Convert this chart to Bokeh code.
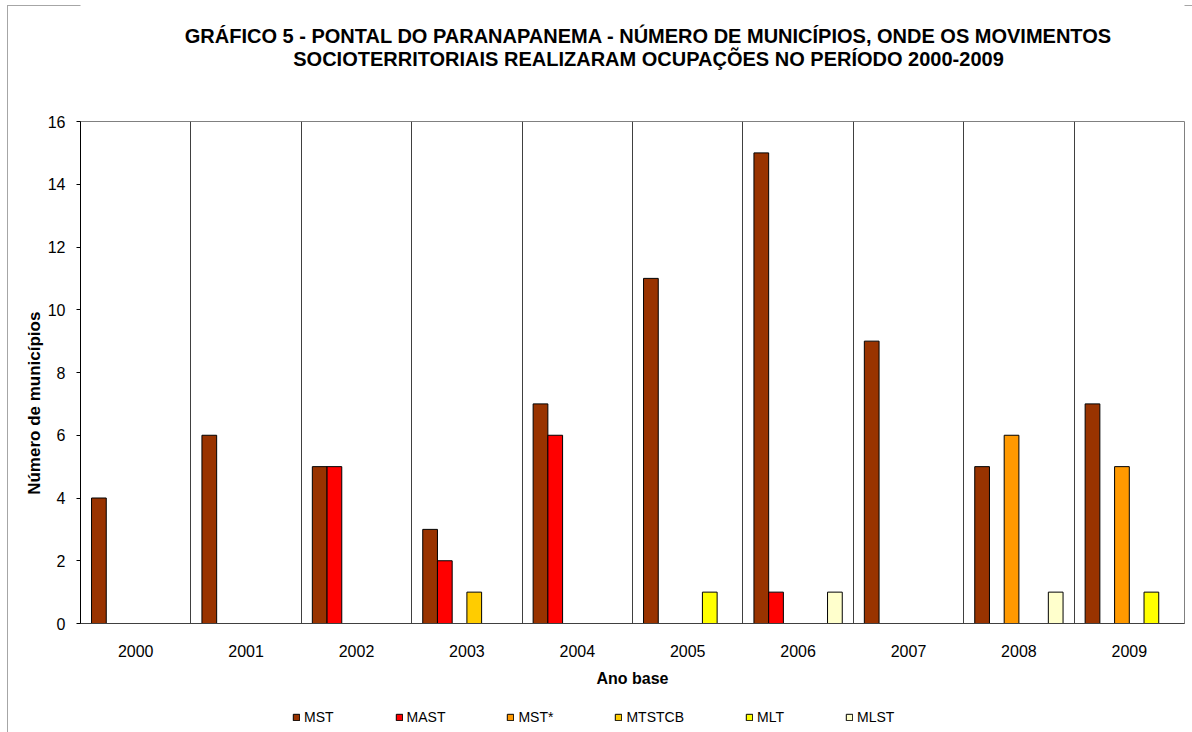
from bokeh.plotting import figure
from bokeh.layouts import column
from bokeh.models import (Range1d, FixedTicker, Legend, LegendItem, Label,
                          ColumnDataSource)
from bokeh.embed import file_html
from bokeh.resources import INLINE

years = ["2000", "2001", "2002", "2003", "2004", "2005", "2006", "2007", "2008", "2009"]
series_names = ["MST", "MAST", "MST*", "MTSTCB", "MLT", "MLST"]
mst = [4, 6, 5, 3, 7, 11, 15, 9, 5, 7]
mast = [0, 0, 5, 2, 6, 0, 1, 0, 0, 0]
mst_star = [0, 0, 0, 0, 0, 0, 0, 0, 6, 5]
mtstcb = [0, 0, 0, 1, 0, 0, 0, 0, 0, 0]
mlt = [0, 0, 0, 0, 0, 1, 0, 0, 0, 1]
mlst = [0, 0, 0, 0, 0, 0, 1, 0, 1, 0]
colors = ["#993300", "#FF0000", "#FF9900", "#FFCC00", "#FFFF00", "#FFFFCC"]
all_series = [mst, mast, mst_star, mtstcb, mlt, mlst]
title_line1 = "GRÁFICO 5 - PONTAL DO PARANAPANEMA - NÚMERO DE MUNICÍPIOS, ONDE OS MOVIMENTOS"
title_line2 = "SOCIOTERRITORIAIS REALIZARAM OCUPAÇÕES NO PERÍODO 2000-2009"

FONT = "Liberation Sans"
W = 1192
TOP_H, MAIN_H, LEG_H = 80, 620, 32
FRAME_L, FRAME_R = 80, 1184

# ---------- title strip (frame aligned with main chart frame) ----------
pt = figure(width=W, height=TOP_H, output_backend="svg", toolbar_location=None,
            x_range=Range1d(FRAME_L, FRAME_R), y_range=Range1d(TOP_H, 0),
            x_axis_location=None, y_axis_location=None,
            min_border=0, min_border_left=0, min_border_right=0,
            min_border_top=0, min_border_bottom=0)
pt.outline_line_color = None
pt.border_fill_color = None
pt.grid.visible = False
for txt, yy in ((title_line1, 35), (title_line2, 58)):
    pt.add_layout(Label(x=648, y=yy, text=txt, text_align="center",
                        text_baseline="middle", text_font=FONT,
                        text_font_size="20px", text_font_style="bold",
                        text_color="#000000"))

# ---------- main chart ----------
p = figure(width=W, height=MAIN_H, output_backend="svg", toolbar_location=None,
           x_range=Range1d(0, 10), y_range=Range1d(0, 16),
           min_border_left=80, min_border_right=8, min_border_top=41,
           min_border_bottom=77)
p.title_location = None
p.border_fill_color = None
p.outline_line_color = "#808080"
p.ygrid.grid_line_color = None
p.xgrid.ticker = FixedTicker(ticks=list(range(1, 11)))
p.xgrid.grid_line_color = "#404040"
p.xgrid.grid_line_width = 1

bar_w = 2.0 / 15.0
for i, (name, vals, col) in enumerate(zip(series_names, all_series, colors)):
    off = (i - 2.5) * bar_w
    xs = [k + 0.5 + off for k, v in enumerate(vals) if v > 0]
    tops = [v for v in vals if v > 0]
    src = ColumnDataSource(dict(x=xs, top=tops))
    p.vbar(x="x", top="top", width=bar_w, bottom=0, source=src,
           fill_color=col, line_color="#000000", line_width=1)

p.yaxis.ticker = FixedTicker(ticks=list(range(0, 17, 2)))
p.yaxis.axis_line_color = "#000000"
p.yaxis.major_tick_line_color = "#000000"
p.yaxis.major_tick_out = 4
p.yaxis.major_tick_in = 0
p.yaxis.minor_tick_line_color = None
p.yaxis.major_label_text_font = FONT
p.yaxis.major_label_text_font_size = "16px"
p.yaxis.major_label_text_color = "#000000"
p.yaxis.major_label_standoff = 11
p.yaxis.axis_label = "Número de municípios" + "\u00a0" * 13
p.yaxis.axis_label_text_font = FONT
p.yaxis.axis_label_text_font_size = "17px"
p.yaxis.axis_label_text_font_style = "bold"
p.yaxis.axis_label_text_color = "#000000"
p.yaxis.axis_label_standoff = 1

p.xaxis.ticker = FixedTicker(ticks=[k + 0.5 for k in range(10)])
p.xaxis.major_label_overrides = {k + 0.5: y for k, y in enumerate(years)}
p.xaxis.axis_line_color = "#404040"
p.xaxis.major_tick_line_color = None
p.xaxis.minor_tick_line_color = None
p.xaxis.major_tick_out = 0
p.xaxis.major_tick_in = 0
p.xaxis.major_label_text_font = FONT
p.xaxis.major_label_text_font_size = "16px"
p.xaxis.major_label_text_color = "#000000"
p.xaxis.major_label_standoff = 21
p.xaxis.axis_label = "Ano base"
p.xaxis.axis_label_text_font = FONT
p.xaxis.axis_label_text_font_size = "16px"
p.xaxis.axis_label_text_font_style = "bold"
p.xaxis.axis_label_text_color = "#000000"
p.xaxis.axis_label_standoff = 10

# ---------- legend strip ----------
pl = figure(width=W, height=LEG_H, output_backend="svg", toolbar_location=None,
            x_range=Range1d(0, 1), y_range=Range1d(0, 1),
            x_axis_location=None, y_axis_location=None,
            min_border=0, min_border_left=0, min_border_right=0,
            min_border_top=0, min_border_bottom=0)
pl.outline_line_color = None
pl.border_fill_color = None
pl.grid.visible = False
items = []
for name, col in zip(series_names, colors):
    # swatch-only renderer: a single non-finite bar, which is never drawn
    r = pl.vbar(x=[float("nan")], top=[float("nan")], width=0.1, fill_color=col,
                line_color="#000000", line_width=1)
    items.append(LegendItem(label=name, renderers=[r]))
legend = Legend(items=items, orientation="horizontal", location=(212, 7),
                spacing=61, padding=0, margin=0, glyph_width=8, glyph_height=8,
                label_standoff=4, label_height=14, label_text_font=FONT,
                label_text_font_size="14px", label_text_color="#000000",
                border_line_color=None, background_fill_color=None)
pl.add_layout(legend, "center")

layout = column(pt, p, pl, spacing=0)
layout.styles = {"box-shadow": "inset 7px 5px 0 0 #ffffff, inset 8px 6px 0 0 #a6a6a6",
                 "background-color": "#ffffff"}
open("out.html", "w").write(file_html(layout, INLINE))
